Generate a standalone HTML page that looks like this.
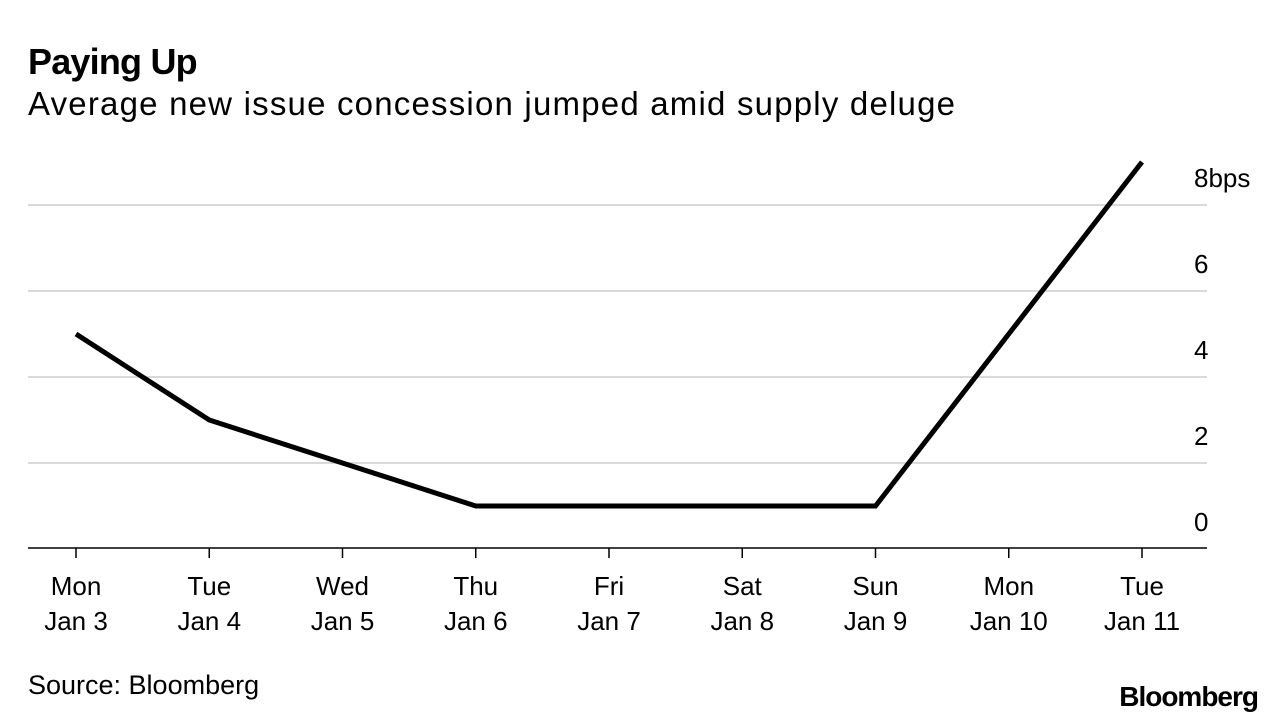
<!DOCTYPE html>
<html><head><meta charset="utf-8"><style>
body{margin:0;background:#fff;width:1285px;height:724px;overflow:hidden;font-family:"Liberation Sans",sans-serif;}
</style></head><body>
<svg width="1285" height="724" style="position:absolute;left:0;top:0">
<text x="28" y="74" font-size="36" font-weight="bold" fill="#000" letter-spacing="-0.8">Paying Up</text>
<text x="28" y="115" font-size="33" fill="#000" textLength="927">Average new issue concession jumped amid supply deluge</text>
<g id="grid"></g>
<g id="xaxis"></g>
<path id="line" fill="none" stroke="#000" stroke-width="5" stroke-linejoin="miter"/>
<text x="28" y="694" font-size="27" fill="#000">Source: Bloomberg</text>
<text x="1258" y="706" font-size="28" font-weight="bold" fill="#000" text-anchor="end" letter-spacing="-1">Bloomberg</text>
</svg>
<script>
const days=["Mon","Tue","Wed","Thu","Fri","Sat","Sun","Mon","Tue"];
const dates=["Jan 3","Jan 4","Jan 5","Jan 6","Jan 7","Jan 8","Jan 9","Jan 10","Jan 11"];
const values=[5,3,2,1,1,1,1,5,9];
const yTicks=[0,2,4,6,8];
const yTickLabels=["0","2","4","6","8bps"];
const NS="http://www.w3.org/2000/svg";
const x=i=>76+i*133.25;
const y=v=>549-v*43;
const grid=document.getElementById('grid');
yTicks.forEach((t,i)=>{
 if(t!==0){const l=document.createElementNS(NS,'line');
 l.setAttribute('x1',28);l.setAttribute('x2',1207);l.setAttribute('y1',y(t));l.setAttribute('y2',y(t));
 l.setAttribute('stroke','#d9d9d9');l.setAttribute('stroke-width',2);
 
 
 grid.appendChild(l);}
 const tx=document.createElementNS(NS,'text');
 tx.setAttribute('x',1194);tx.setAttribute('y',y(t)-18);tx.setAttribute('font-size',26);
 tx.textContent=yTickLabels[i];
 
 
 grid.appendChild(tx);
});
const xa=document.getElementById('xaxis');
const base=document.createElementNS(NS,'line');
base.setAttribute('x1',28);base.setAttribute('x2',1207);base.setAttribute('y1',548);base.setAttribute('y2',548);
base.setAttribute('stroke','#000');base.setAttribute('stroke-width',1.5);


xa.appendChild(base);
days.forEach((d,i)=>{
 const t=document.createElementNS(NS,'line');
 t.setAttribute('x1',x(i));t.setAttribute('x2',x(i));t.setAttribute('y1',548);t.setAttribute('y2',558);
 t.setAttribute('stroke','#000');t.setAttribute('stroke-width',1.5);
 
 
 xa.appendChild(t);
 [d,dates[i]].forEach((s,k)=>{
  const tx=document.createElementNS(NS,'text');
  tx.setAttribute('x',x(i));tx.setAttribute('y',595+k*35);tx.setAttribute('font-size',26);
  tx.setAttribute('text-anchor','middle');tx.textContent=s;
  
  
  xa.appendChild(tx);
 });
});
document.getElementById('line').setAttribute('d',values.map((v,i)=>(i?'L':'M')+x(i)+','+y(v)).join(''));
</script>
</body></html>
